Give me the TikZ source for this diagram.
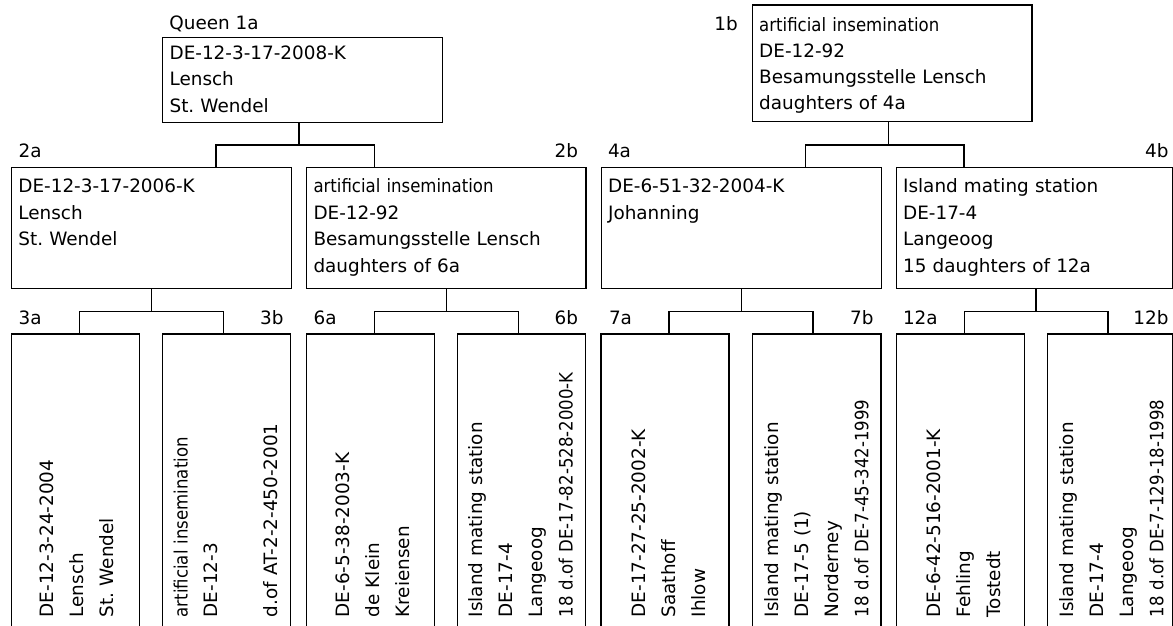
\documentclass[tikz,border=0pt]{standalone}
\usepackage{fontspec}
\setmainfont{DejaVu Sans}
\newfontfamily\condfont[FakeStretch=0.9]{DejaVu Sans}
\frenchspacing
\begin{document}
\begin{tikzpicture}[x=1pt,y=-1pt,
  bx/.style={draw, line width=1.3pt, inner sep=0pt, outer sep=0pt, anchor=north west},
  midbox/.style={bx, minimum width=279.6pt, minimum height=121pt},
  leafbox/.style={bx, minimum width=128pt, minimum height=346pt},
  txt/.style={anchor=base west, inner sep=0pt, text width=270pt, align=left, font=\fontsize{18.4}{26.5}\selectfont},
  rtxt/.style={rotate=90, anchor=base west, inner sep=0pt, text width=320pt, align=left, font=\fontsize{18.4}{30}\selectfont},
  lbl/.style={anchor=base west, inner sep=0pt, font=\fontsize{18.4}{22}\selectfont},
  lblr/.style={anchor=base east, inner sep=0pt, font=\fontsize{18.4}{22}\selectfont},
  conn/.style={line width=1.3pt}]
\useasboundingbox (0,0) rectangle (1173,625);

% ---- top level boxes
\node[bx, minimum width=279.6pt, minimum height=84.6pt] (b1a) at (162.7,37.7) {};
\node[bx, minimum width=279.7pt, minimum height=116.7pt] (b1b) at (752.3,5) {};
\node[lbl] (l1a) at (169.2,29.3) {Queen 1a};
\node[lblr] (l1b) at (738,30) {1b};
\node[txt] (t1a) at (169.4,59.3) {DE-12-3-17-2008-K\\Lensch\\St. Wendel};
\node[txt, font=\fontsize{18.4}{26.1}\selectfont] (t1b) at (759,31) {{\condfont artificial insemination}\\DE-12-92\\Besamungsstelle Lensch\\daughters of 4a};

% ---- second level boxes
\node[midbox] (b2a) at (11.7,167.7) {};
\node[midbox] (b2b) at (306.3,167.7) {};
\node[midbox, minimum width=280pt] (b4a) at (601.3,167.7) {};
\node[midbox, minimum width=276.1pt] (b4b) at (896.3,167.7) {};
\node[lbl] (l2a) at (18.5,157.3) {2a};
\node[lblr] (l2b) at (578.3,157.3) {2b};
\node[lbl] (l4a) at (607.8,157.3) {4a};
\node[lblr] (l4b) at (1168.7,157.3) {4b};
\node[txt] (t2a) at (18.2,192.7) {DE-12-3-17-2006-K\\Lensch\\St. Wendel};
\node[txt] (t2b) at (313.3,192.7) {{\condfont artificial insemination}\\DE-12-92\\Besamungsstelle Lensch\\daughters of 6a};
\node[txt] (t4a) at (607.9,192.7) {DE-6-51-32-2004-K\\Johanning};
\node[txt] (t4b) at (902.9,192.7) {Island mating station\\DE-17-4\\Langeoog\\15 daughters of 12a};

% ---- leaf boxes
\node[leafbox] (b3a) at (11.7,334) {};
\node[leafbox] (b3b) at (162.7,334) {};
\node[leafbox] (b6a) at (306.7,334) {};
\node[leafbox] (b6b) at (457.7,334) {};
\node[leafbox] (b7a) at (601,334) {};
\node[leafbox, minimum width=128.7pt] (b7b) at (752.3,334) {};
\node[leafbox] (b12a) at (896.3,334) {};
\node[leafbox, minimum width=125.1pt] (b12b) at (1047.3,334) {};
\node[lbl] (l3a) at (18.5,324.3) {3a};
\node[lblr] (l3b) at (283.7,324.3) {3b};
\node[lbl] (l6a) at (313.5,324.3) {6a};
\node[lblr] (l6b) at (578.3,324.3) {6b};
\node[lbl] (l7a) at (608.8,324.3) {7a};
\node[lblr] (l7b) at (873.7,324.3) {7b};
\node[lbl] (l12a) at (902.8,324.3) {12a};
\node[lblr] (l12b) at (1168.7,324.3) {12b};

\node[rtxt] (t3a) at (53.3,617.5) {DE-12-3-24-2004\\Lensch\\St. Wendel};
\node[rtxt] (t3b) at (187.5,617.5) {{\condfont artificial insemination}\\DE-12-3\\[30pt]d.of AT-2-2-450-2001};
\node[rtxt] (t6a) at (349.3,617.5) {DE-6-5-38-2003-K\\de Klein\\Kreiensen};
\node[rtxt] (t6b) at (482.7,617.5) {Island mating station\\DE-17-4\\Langeoog\\{\condfont 18 d.of DE-17-82-528-2000-K}};
\node[rtxt] (t7a) at (645.7,617.5) {DE-17-27-25-2002-K\\Saathoff\\Ihlow};
\node[rtxt] (t7b) at (778.3,617.5) {Island mating station\\DE-17-5 (1)\\Norderney\\{\condfont 18 d.of DE-7-45-342-1999}};
\node[rtxt] (t12a) at (940.7,617.5) {DE-6-42-516-2001-K\\Fehling\\Tostedt};
\node[rtxt] (t12b) at (1073.3,617.5) {Island mating station\\DE-17-4\\Langeoog\\{\condfont 18 d.of DE-7-129-18-1998}};

% ---- connectors top
\draw[conn] ([xshift=136.3pt]b1a.south west) -- ++(0,22.7) -| ([xshift=204.4pt]b2a.north west);
\draw[conn] ([xshift=136.3pt]b1a.south west) -- ++(0,22.7) -| ([xshift=68.5pt]b2b.north west);
\draw[conn] ([xshift=136.4pt]b1b.south west) -- ++(0,23.3) -| ([xshift=204.4pt]b4a.north west);
\draw[conn] ([xshift=136.4pt]b1b.south west) -- ++(0,23.3) -| ([xshift=67.8pt]b4b.north west);

% ---- connectors mid
\draw[conn] ([xshift=140pt]b2a.south west) -- ++(0,23) -| ([xshift=67.8pt]b3a.north west);
\draw[conn] ([xshift=140pt]b2a.south west) -- ++(0,23) -| ([xshift=60.5pt]b3b.north west);
\draw[conn] ([xshift=140pt]b2b.south west) -- ++(0,23) -| ([xshift=67.8pt]b6a.north west);
\draw[conn] ([xshift=140pt]b2b.south west) -- ++(0,23) -| ([xshift=60.5pt]b6b.north west);
\draw[conn] ([xshift=140pt]b4a.south west) -- ++(0,23) -| ([xshift=68pt]b7a.north west);
\draw[conn] ([xshift=140pt]b4a.south west) -- ++(0,23) -| ([xshift=60.6pt]b7b.north west);
\draw[conn] ([xshift=139.7pt]b4b.south west) -- ++(0,23) -| ([xshift=68pt]b12a.north west);
\draw[conn] ([xshift=139.7pt]b4b.south west) -- ++(0,23) -| ([xshift=60.7pt]b12b.north west);
\end{tikzpicture}
\end{document}
